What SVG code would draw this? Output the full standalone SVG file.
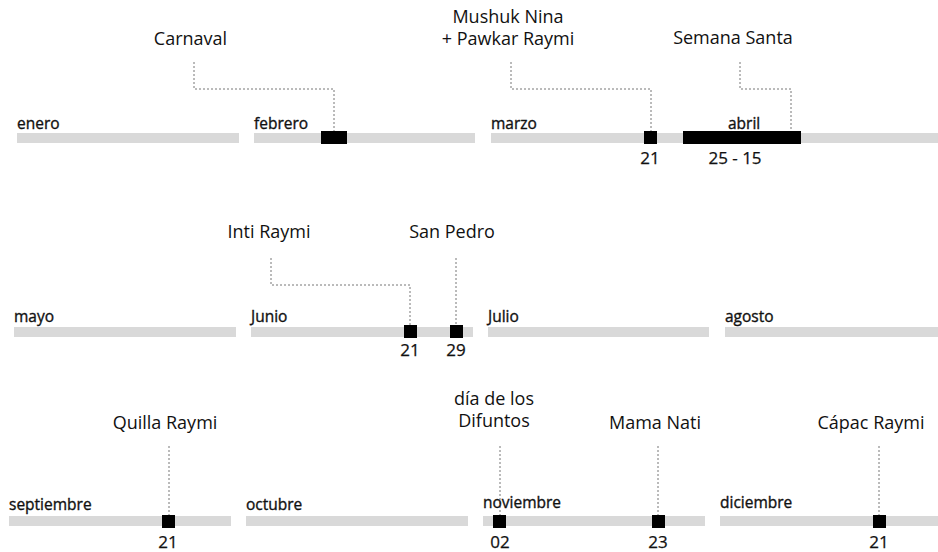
<svg xmlns="http://www.w3.org/2000/svg" width="938" height="552" viewBox="0 0 938 552">
<style>
.bar{fill:#d9d9d9}
.ev{fill:#000}
.mon{font-family:"Open Sans","Noto Sans",sans-serif;font-size:15.5px;fill:#111;stroke:#111;stroke-width:0.35}
.lbl{font-family:"Open Sans","Noto Sans",sans-serif;font-size:18px;fill:#111;text-anchor:middle}
.num{font-family:"Open Sans","Noto Sans",sans-serif;font-size:17px;fill:#111;text-anchor:middle;stroke:#111;stroke-width:0.25}
.con{fill:none;stroke:#777;stroke-width:1;stroke-dasharray:2 2}
</style>
<rect width="938" height="552" fill="#fff"/>
<g id="connectors">
<path class="con" d="M194,62V89H334V131"/>
<path class="con" d="M511,62V89H651V131"/>
<path class="con" d="M740,62V89H791V131"/>
<path class="con" d="M271,258V285H410V325"/>
<path class="con" d="M456,258V325"/>
<path class="con" d="M169,446V515"/>
<path class="con" d="M500,446V515"/>
<path class="con" d="M658,446V515"/>
<path class="con" d="M879,446V515"/>
</g>
<g id="enero"><rect class="bar" x="17" y="133" width="222" height="10"/><text class="mon" x="17" y="129">enero</text></g>
<g id="febrero"><rect class="bar" x="254" y="133" width="221" height="10"/><text class="mon" x="254" y="129">febrero</text></g>
<g id="marzo"><rect class="bar" x="491" y="133" width="222" height="10"/><text class="mon" x="491" y="129">marzo</text></g>
<g id="abril"><rect class="bar" x="728" y="133" width="210" height="10"/><text class="mon" x="728" y="129">abril</text></g>
<g id="mayo"><rect class="bar" x="14" y="327" width="222" height="10"/><text class="mon" x="14" y="322">mayo</text></g>
<g id="junio"><rect class="bar" x="251" y="327" width="222" height="10"/><text class="mon" x="251" y="322">Junio</text></g>
<g id="julio"><rect class="bar" x="488" y="327" width="221" height="10"/><text class="mon" x="488" y="322">Julio</text></g>
<g id="agosto"><rect class="bar" x="725" y="327" width="213" height="10"/><text class="mon" x="725" y="322">agosto</text></g>
<g id="septiembre"><rect class="bar" x="9" y="516" width="222" height="10"/><text class="mon" x="9" y="510">septiembre</text></g>
<g id="octubre"><rect class="bar" x="246" y="516" width="222" height="10"/><text class="mon" x="246" y="510">octubre</text></g>
<g id="noviembre"><rect class="bar" x="483" y="516" width="222" height="10"/><text class="mon" x="483" y="508">noviembre</text></g>
<g id="diciembre"><rect class="bar" x="720" y="516" width="218" height="10"/><text class="mon" x="720" y="508">diciembre</text></g>

<g id="carnaval"><text class="lbl" x="190.5" y="45">Carnaval</text><rect class="ev" x="321" y="131" width="26" height="13"/></g>
<g id="mushuk"><text class="lbl" x="508" y="23">Mushuk Nina</text><text class="lbl" x="508" y="45">+ Pawkar Raymi</text><rect class="ev" x="644" y="131" width="13" height="13"/><text class="num" x="650" y="164">21</text></g>
<g id="semana-santa"><text class="lbl" x="733" y="44">Semana Santa</text><rect class="ev" x="683" y="131" width="118" height="13"/><text class="num" x="735" y="164">25 - 15</text></g>
<g id="inti-raymi"><text class="lbl" x="269" y="238">Inti Raymi</text><rect class="ev" x="404" y="325" width="13" height="13"/><text class="num" x="410" y="356">21</text></g>
<g id="san-pedro"><text class="lbl" x="452" y="238">San Pedro</text><rect class="ev" x="450" y="325" width="13" height="13"/><text class="num" x="456" y="356">29</text></g>
<g id="quilla-raymi"><text class="lbl" x="165" y="429">Quilla Raymi</text><rect class="ev" x="162" y="515" width="13" height="13"/><text class="num" x="168" y="548">21</text></g>
<g id="difuntos"><text class="lbl" x="494" y="405">día de los</text><text class="lbl" x="494" y="427">Difuntos</text><rect class="ev" x="493" y="515" width="13" height="13"/><text class="num" x="500" y="548">02</text></g>
<g id="mama-nati"><text class="lbl" x="655" y="429">Mama Nati</text><rect class="ev" x="652" y="515" width="13" height="13"/><text class="num" x="658" y="548">23</text></g>
<g id="capac-raymi"><text class="lbl" x="871" y="429">Cápac Raymi</text><rect class="ev" x="873" y="515" width="13" height="13"/><text class="num" x="879" y="548">21</text></g>
</svg>
